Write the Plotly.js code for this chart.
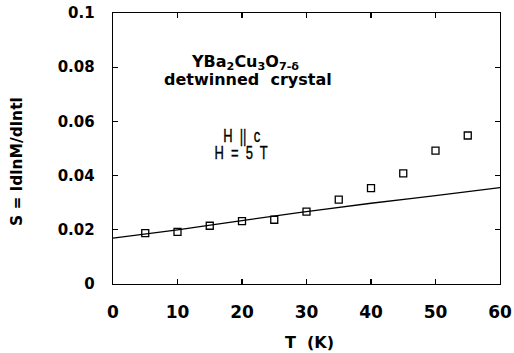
<!DOCTYPE html>
<html><head><meta charset="utf-8">
<script src="https://cdn.plot.ly/plotly-3.0.1.min.js"></script>
<style>html,body{margin:0;padding:0;background:#fff;}#chart{width:514px;height:353px;}</style>
</head><body><div id="chart"></div>
<script>
const temps = [5, 10, 15, 20, 25, 30, 35, 40, 45, 50, 55];
const rates = [0.0188, 0.0192, 0.0215, 0.0232, 0.0237, 0.0267, 0.0311, 0.0354, 0.0408, 0.0492, 0.0548];
const fitT = [0, 10, 20, 30, 40, 50, 60];
const fitS = [0.0169, 0.0200, 0.0234, 0.0267, 0.0298, 0.0326, 0.0356];
const xTicks = [0, 10, 20, 30, 40, 50, 60];
const yTicks = [0, 0.02, 0.04, 0.06, 0.08, 0.1];
const yTickText = ['0', '0.02', '0.04', '0.06', '0.08', '0.1'];

const BOLD = 'DejaVu Sans, Liberation Sans, Arial, sans-serif';
const NARROW = 'Liberation Sans, Arial, sans-serif';
const data = [
  {x: fitT, y: fitS, mode: 'lines', line: {color: '#000', width: 1.3, shape: 'spline'}, showlegend: false, hoverinfo: 'skip'},
  {x: temps, y: rates, mode: 'markers', marker: {symbol: 'square-open', size: 7, color: '#000', line: {width: 1.3}}, showlegend: false}
];
const layout = {
  width: 514, height: 353,
  margin: {l: 113, r: 14, t: 13, b: 69},
  paper_bgcolor: '#fff', plot_bgcolor: '#fff',
  xaxis: {range: [0, 60], tickvals: xTicks, ticktext: xTicks.map(String), ticks: 'inside', ticklen: 5, tickwidth: 1.2, tickcolor: '#000',
          showline: true, linecolor: '#000', linewidth: 1.3, mirror: 'ticks', showgrid: false, zeroline: false,
          ticklabelstandoff: 12,
          tickfont: {family: BOLD, size: 17, color: '#000', weight: 'bold'}},
  yaxis: {range: [0, 0.1], tickvals: yTicks, ticktext: yTickText, ticks: 'inside', ticklen: 5, tickwidth: 1.2, tickcolor: '#000',
          showline: true, linecolor: '#000', linewidth: 1.3, mirror: 'ticks', showgrid: false, zeroline: false,
          ticklabelstandoff: 14,
          tickfont: {family: BOLD, size: 15, color: '#000', weight: 'bold'}},
  annotations: [
    {x: 0.509, y: -0.216, xref: 'paper', yref: 'paper', xanchor: 'center', yanchor: 'middle', showarrow: false,
     text: 'T  (K)', font: {family: BOLD, size: 16, color: '#000', weight: 'bold'}},
    {x: -0.248, y: 0.45, xref: 'paper', yref: 'paper', xanchor: 'center', yanchor: 'middle', showarrow: false, textangle: -90,
     text: 'S = ldlnM/dlntl', font: {family: BOLD, size: 15.5, color: '#000', weight: 'bold'}},
    {x: 0.341, y: 0.8155, xref: 'paper', yref: 'paper', xanchor: 'center', yanchor: 'middle', showarrow: false,
     text: 'YBa<sub>2</sub>Cu<sub>3</sub>O<sub>7-δ</sub>', font: {family: BOLD, size: 16, color: '#000', weight: 'bold'}},
    {x: 0.349, y: 0.756, xref: 'paper', yref: 'paper', xanchor: 'center', yanchor: 'middle', showarrow: false,
     text: 'detwinned  crystal', font: {family: BOLD, size: 16, color: '#000', weight: 'bold'}},
    {x: 0.333, y: 0.546, xref: 'paper', yref: 'paper', xanchor: 'center', yanchor: 'middle', showarrow: false,
     text: 'H  ||  c', font: {family: NARROW, size: 18, color: '#000'}},
    {x: 0.331, y: 0.483, xref: 'paper', yref: 'paper', xanchor: 'center', yanchor: 'middle', showarrow: false,
     text: 'H  =  5  T', font: {family: NARROW, size: 18, color: '#000'}}
  ]
};
Plotly.newPlot('chart', data, layout, {displayModeBar: false, staticPlot: true}).then(function () {
  document.querySelectorAll('#chart text.annotation-text').forEach(function (t) {
    if (t.textContent.indexOf('H') === 0) {
      const x = parseFloat(t.getAttribute('x')) || 0;
      const prev = t.getAttribute('transform') || '';
      t.setAttribute('transform', 'translate(' + x + ',0) scale(0.72,1) translate(' + (-x) + ',0) ' + prev);
      t.style.stroke = '#000';
      t.style.strokeWidth = '0.4px';
    }
  });
});
</script></body></html>
